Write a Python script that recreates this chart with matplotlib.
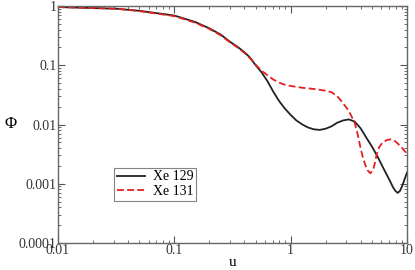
import matplotlib
matplotlib.use("Agg")
import matplotlib.pyplot as plt
from matplotlib.ticker import FuncFormatter, LogLocator, NullFormatter

plt.rcParams['font.family'] = ['Liberation Serif', 'DejaVu Serif']

# Xe 129 (solid black)
u_129 = [0.01, 0.0316, 0.05, 0.1, 0.15, 0.2, 0.25, 0.30, 0.355, 0.40, 0.447,
         0.50, 0.562, 0.631, 0.708, 0.794, 0.891, 1.0, 1.12, 1.26, 1.41, 1.58,
         1.78, 2.0, 2.24, 2.51, 2.82, 3.16, 3.55, 3.98, 4.47, 5.01, 5.62, 6.31,
         7.08, 7.59, 7.94, 8.32, 8.71, 9.12, 9.55, 10.0]
phi_129 = [0.96, 0.90, 0.83, 0.69, 0.54, 0.42, 0.33, 0.25, 0.20, 0.166, 0.135,
           0.10, 0.076, 0.054, 0.036, 0.025, 0.0186, 0.0145, 0.0117, 0.0100,
           0.0089, 0.0083, 0.0081, 0.0085, 0.0093, 0.0107, 0.0117, 0.0122,
           0.0112, 0.0087, 0.0060, 0.0042, 0.0028, 0.00178, 0.00115, 0.00087,
           0.00076, 0.00070, 0.00076, 0.00093, 0.0012, 0.00155]

# Xe 131 (dashed red)
u_131 = [0.01, 0.0316, 0.05, 0.1, 0.15, 0.2, 0.25, 0.30, 0.355, 0.40, 0.447,
         0.50, 0.562, 0.631, 0.708, 0.794, 0.891, 1.0, 1.12, 1.26, 1.41, 1.58,
         1.78, 2.0, 2.24, 2.51, 2.82, 3.16, 3.55, 3.76, 3.98, 4.17, 4.37, 4.57,
         4.84, 5.13, 5.31, 5.50, 5.75, 6.03, 6.31, 6.76, 7.24, 7.94, 8.91, 10.0]
phi_131 = [0.96, 0.90, 0.82, 0.676, 0.525, 0.41, 0.32, 0.245, 0.195, 0.162,
           0.132, 0.102, 0.081, 0.068, 0.0575, 0.051, 0.0468, 0.0447, 0.0432,
           0.0417, 0.0407, 0.0398, 0.0385, 0.0372, 0.0351, 0.0302, 0.0229,
           0.0170, 0.0107, 0.0069, 0.0041, 0.0028, 0.0021, 0.0017, 0.0015,
           0.00174, 0.0023, 0.0032, 0.0041, 0.0047, 0.0051, 0.0055, 0.0056,
           0.0052, 0.0042, 0.0032]

x_ticks = [0.01, 0.1, 1, 10]
y_ticks = [0.0001, 0.001, 0.01, 0.1, 1]

fig = plt.figure(figsize=(4.15, 2.70), dpi=100)
ax = fig.add_axes([58 / 415, 1 - 243 / 270, 349 / 415, 237 / 270])

ax.plot(u_129, phi_129, color='#222222', lw=1.3, label='Xe 129')
ax.plot(u_131, phi_131, color='#e3201f', lw=1.3, dashes=(3.8, 1.8), label='Xe 131')

ax.set_xscale('log')
ax.set_yscale('log')
ax.set_xlim(0.01, 10)
ax.set_ylim(0.0001, 1)

fmt = FuncFormatter(lambda v, p: '%g' % v)
ax.set_xticks(x_ticks)
ax.set_yticks(y_ticks)
ax.xaxis.set_major_formatter(fmt)
ax.yaxis.set_major_formatter(fmt)
ax.xaxis.set_minor_locator(LogLocator(base=10, subs=range(2, 10)))
ax.yaxis.set_minor_locator(LogLocator(base=10, subs=range(2, 10)))
ax.xaxis.set_minor_formatter(NullFormatter())
ax.yaxis.set_minor_formatter(NullFormatter())

ax.tick_params(which='both', direction='in', top=True, right=True,
               colors='#555555', labelcolor='#333333', labelsize=10)
ax.tick_params(which='major', length=5, width=0.8, pad=1)
ax.tick_params(which='minor', length=2.5, width=0.6)
for s in ax.spines.values():
    s.set_color('#666666')
    s.set_linewidth(1.0)

ax.set_xlabel('u', fontsize=11, labelpad=-1)
ax.set_ylabel('Φ', fontsize=12, rotation=0, labelpad=6, va='center')

leg = ax.legend(loc='upper left', bbox_to_anchor=(0.161, 0.318), borderaxespad=0,
                fontsize=10, frameon=True, fancybox=False, handlelength=2.0,
                handletextpad=0.6, borderpad=0.2, labelspacing=0.1)
leg.get_frame().set_edgecolor('#666666')
leg.get_frame().set_linewidth(0.8)

fig.savefig('out.png', dpi=100)
